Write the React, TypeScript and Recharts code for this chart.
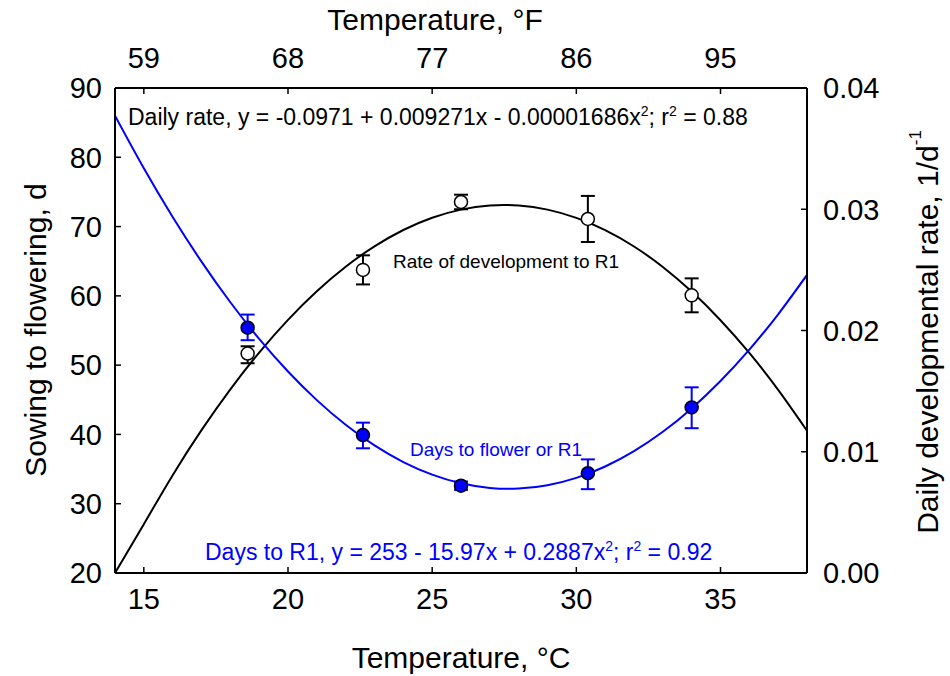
import { ComposedChart, Line, Scatter, ErrorBar, XAxis, YAxis } from "recharts";

// fitted curves, read at 1 °C steps
const curveTemps = [14, 15, 16, 17, 18, 19, 20, 21, 22, 23, 24, 25, 26, 27, 28, 29, 30, 31, 32, 33, 34, 35, 36, 37, 38];
const daysCurve = [86.0, 78.41, 71.39, 64.94, 59.08, 53.79, 49.08, 44.95, 41.39, 38.41, 36.01, 34.19, 32.94, 32.27, 32.18, 32.67, 33.73, 35.37, 37.59, 40.38, 43.76, 47.71, 52.24, 57.34, 63.02];
const rateCurve = [0.0, 0.00403, 0.00807, 0.01178, 0.01515, 0.01818, 0.02088, 0.02324, 0.02526, 0.02694, 0.02829, 0.0293, 0.02997, 0.03031, 0.03031, 0.02997, 0.02929, 0.02828, 0.02693, 0.02524, 0.02321, 0.02085, 0.01815, 0.01511, 0.01174];

// observations
const obsTemps = [18.6, 22.6, 26.0, 30.4, 34.0];
const daysMean = [55.4, 39.9, 32.6, 34.4, 43.9];
const daysErr = [[1.8, 1.9], [1.9, 1.8], [0.6, 0.6], [2.3, 2.0], [3.0, 2.9]];
const rateMean = [0.0181, 0.025, 0.0306, 0.0292, 0.0229];
const rateErr = [[0.0008, 0.0006], [0.0012, 0.0012], [0.0006, 0.0006], [0.0019, 0.0019], [0.0014, 0.0014]];

const celsiusTicks = [15, 20, 25, 30, 35];
const fahrenheitTicks = [59, 68, 77, 86, 95];
const daysTicks = [20, 30, 40, 50, 60, 70, 80, 90];
const rateTicks = [0, 0.01, 0.02, 0.03, 0.04];

const daysLine = curveTemps.map((x, i) => ({ x, y: daysCurve[i] }));
const rateLine = curveTemps.map((x, i) => ({ x, y: rateCurve[i] }));
const daysPts = obsTemps.map((x, i) => ({ x, y: daysMean[i], err: daysErr[i] }));
const ratePts = obsTemps.map((x, i) => ({ x, y: rateMean[i], err: rateErr[i] }));

const FONT = '"Liberation Sans", Arial, sans-serif';
const tickStyle = { fill: "#000", fontSize: 29, fontFamily: FONT };
const axisLine = { stroke: "#000", strokeWidth: 2 };
const tickLine = { stroke: "#000", strokeWidth: 1.5 };

const filledDot = (p: any) => <circle cx={p.cx} cy={p.cy} r={6.5} fill="#0000ff" stroke="#000" strokeWidth={1.5} />;
const openDot = (p: any) => <circle cx={p.cx} cy={p.cy} r={6.5} fill="#fff" stroke="#000" strokeWidth={1.5} />;

export default function App() {
  return (
    <div style={{ position: "absolute", left: 0, top: 0, width: 950, height: 676, background: "#fff" }}>
      <ComposedChart width={950} height={676} margin={{ top: 38, right: 43, bottom: 53, left: 35 }}>
        <XAxis xAxisId="c" type="number" dataKey="x" domain={[14, 38]} ticks={celsiusTicks} allowDataOverflow
          height={50} tick={tickStyle} axisLine={axisLine} tickLine={tickLine} tickSize={-6} tickMargin={21} />
        <XAxis xAxisId="f" orientation="top" type="number" dataKey="x" domain={[14, 38]} ticks={celsiusTicks} allowDataOverflow
          height={50} tick={tickStyle} axisLine={axisLine} tickLine={tickLine} tickSize={-6} tickMargin={26}
          tickFormatter={(_v: number, i: number) => String(fahrenheitTicks[i])} />
        <YAxis yAxisId="d" type="number" domain={[20, 90]} ticks={daysTicks} allowDataOverflow
          width={80} tick={tickStyle} axisLine={axisLine} tickLine={tickLine} tickSize={-6} tickMargin={19} />
        <YAxis yAxisId="r" orientation="right" type="number" domain={[0, 0.04]} ticks={rateTicks} allowDataOverflow
          width={100} tick={tickStyle} axisLine={axisLine} tickLine={tickLine} tickSize={-6} tickMargin={22}
          tickFormatter={(v: number) => v.toFixed(2)} />

        <Line xAxisId="c" yAxisId="r" data={rateLine} dataKey="y" type="natural" stroke="#000" strokeWidth={2} dot={false} isAnimationActive={false} />
        <Line xAxisId="c" yAxisId="d" data={daysLine} dataKey="y" type="natural" stroke="#0000ff" strokeWidth={2} dot={false} isAnimationActive={false} />

        <Scatter xAxisId="c" yAxisId="r" data={ratePts} dataKey="y" shape={openDot} isAnimationActive={false}>
          <ErrorBar dataKey="err" direction="y" width={7} stroke="#000" strokeWidth={2} />
        </Scatter>
        <Scatter xAxisId="c" yAxisId="d" data={daysPts} dataKey="y" shape={filledDot} isAnimationActive={false}>
          <ErrorBar dataKey="err" direction="y" width={7} stroke="#0000ff" strokeWidth={2} />
        </Scatter>
      </ComposedChart>

      <svg width={950} height={676} style={{ position: "absolute", left: 0, top: 0, pointerEvents: "none" }} fontFamily={FONT}>
        <text x={435} y={30} fontSize={30} textAnchor="middle">Temperature, °F</text>
        <text x={461} y={668} fontSize={30} textAnchor="middle">Temperature, °C</text>
        <text x={35} y={330} fontSize={30} textAnchor="middle" dominantBaseline="central" transform="rotate(-90 35 330)">Sowing to flowering, d</text>
        <text x={927} y={332} fontSize={30} textAnchor="middle" dominantBaseline="central" transform="rotate(-90 927 332)">
          Daily developmental rate, 1/d<tspan fontSize={17} dy={-12}>-1</tspan>
        </text>

        <text x={128} y={125} fontSize={23}>
          Daily rate, y = -0.0971 + 0.009271x - 0.00001686x<tspan fontSize={14} dy={-9}>2</tspan>
          <tspan dy={9}>; r</tspan><tspan fontSize={14} dy={-9}>2</tspan><tspan dy={9}> = 0.88</tspan>
        </text>
        <text x={205} y={560} fontSize={23} fill="#0000ff">
          Days to R1, y = 253 - 15.97x + 0.2887x<tspan fontSize={14} dy={-9}>2</tspan>
          <tspan dy={9}>; r</tspan><tspan fontSize={14} dy={-9}>2</tspan><tspan dy={9}> = 0.92</tspan>
        </text>
        <text x={393} y={268} fontSize={19}>Rate of development to R1</text>
        <text x={410} y={456} fontSize={19} fill="#0000ff">Days to flower or R1</text>
      </svg>
    </div>
  );
}
